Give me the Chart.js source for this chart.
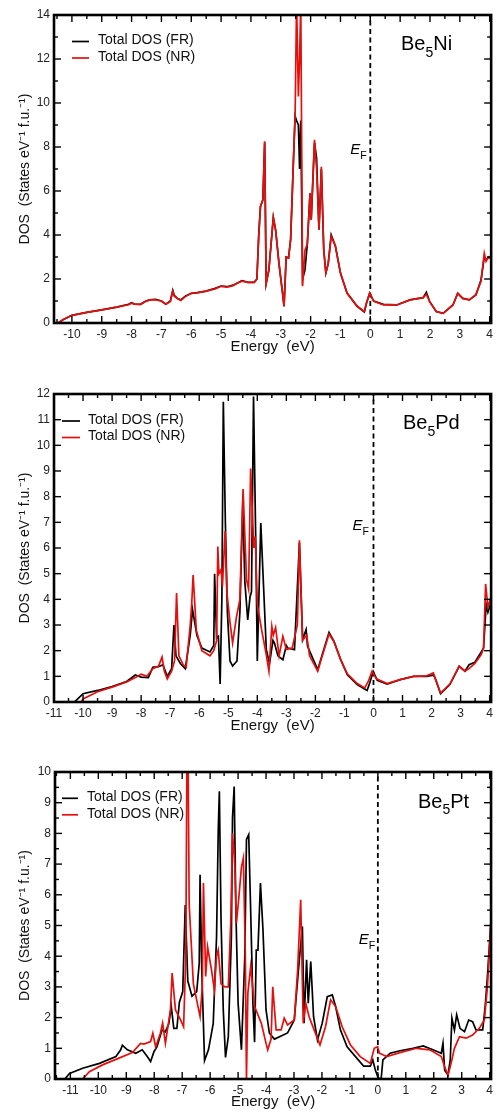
<!DOCTYPE html>
<html>
<head>
<meta charset="utf-8">
<script src="https://cdn.jsdelivr.net/npm/chart.js@4.4.1/dist/chart.umd.min.js"></script>
<style>
    body { margin: 0; background: #fff; }
    .panel { position: absolute; left: 0; width: 497px; }
</style>
</head>
<body>
<div class="panel" style="top:0;height:370px"><canvas id="dosNi" width="497" height="370"></canvas></div>
<div class="panel" style="top:370px;height:370px"><canvas id="dosPd" width="497" height="370"></canvas></div>
<div class="panel" style="top:740px;height:372px"><canvas id="dosPt" width="497" height="372"></canvas></div>
<script>
// --- Data ---
const seriesLabels = ['Total DOS (FR)', 'Total DOS (NR)'];

// Be5Ni: both curves share the same energy grid
const niE = [-10.46, -10.3, -10.0, -9.5, -9.0, -8.5, -8.1, -8.0, -7.9, -7.7, -7.55, -7.4, -7.2, -7.0, -6.85, -6.7, -6.62, -6.57, -6.45, -6.35,
    -6.2, -6.0, -5.8, -5.5, -5.2, -5.0, -4.8, -4.6, -4.4, -4.3, -4.1, -3.89, -3.8, -3.74, -3.68, -3.6, -3.54, -3.49, -3.4, -3.25,
    -3.17, -3.06, -2.94, -2.89, -2.82, -2.74, -2.67, -2.57, -2.52, -2.47, -2.41, -2.37, -2.33, -2.27, -2.19, -2.11, -2.02, -1.98, -1.87, -1.8,
    -1.72, -1.64, -1.56, -1.49, -1.41, -1.31, -1.17, -1.0, -0.78, -0.44, -0.2, -0.13, -0.02, 0.11, 0.44, 0.89, 1.33, 1.77, 1.88, 1.99,
    2.21, 2.44, 2.77, 2.93, 3.1, 3.32, 3.54, 3.71, 3.82, 3.88, 3.96, 4.05];
const niFR = [0, 0.15, 0.35, 0.48, 0.6, 0.72, 0.85, 0.92, 0.86, 0.85, 0.98, 1.05, 1.08, 1.0, 0.85, 1.0, 1.48, 1.25, 1.1, 1.05,
    1.22, 1.35, 1.38, 1.45, 1.58, 1.68, 1.65, 1.72, 1.85, 1.92, 1.85, 1.85, 2.0, 4.0, 5.3, 5.6, 8.2, 1.8, 2.4, 4.8,
    4.2, 2.7, 1.36, 0.76, 3.0, 2.95, 3.8, 7.6, 9.4, 9.2, 9.0, 7.0, 9.2, 2.0, 2.4, 3.6, 5.9, 4.7, 8.2, 7.5,
    4.24, 7.0, 3.33, 2.27, 2.7, 4.0, 3.5, 2.27, 1.36, 0.76, 0.5, 0.9, 1.36, 1.0, 0.85, 0.82, 1.05, 1.15, 1.4, 0.97,
    0.52, 0.44, 0.82, 1.35, 1.12, 1.05, 1.27, 1.95, 3.0, 2.86, 3.0, 2.9];
const niNR = [0, 0.15, 0.35, 0.48, 0.6, 0.72, 0.83, 0.9, 0.86, 0.85, 0.97, 1.05, 1.05, 1.0, 0.85, 0.98, 1.45, 1.22, 1.1, 1.02,
    1.2, 1.35, 1.37, 1.45, 1.55, 1.67, 1.63, 1.7, 1.85, 1.9, 1.85, 1.85, 2.0, 3.9, 5.3, 5.6, 8.26, 1.8, 2.4, 4.8,
    4.2, 2.7, 1.36, 0.76, 3.0, 2.95, 3.8, 7.6, 9.4, 14.6, 10.3, 12.0, 14.6, 1.67, 3.3, 3.6, 5.9, 4.7, 8.33, 7.0,
    4.24, 7.1, 3.33, 2.27, 2.7, 3.94, 3.5, 2.27, 1.36, 0.76, 0.53, 0.9, 1.36, 1.0, 0.82, 0.82, 1.05, 1.15, 1.3, 0.97,
    0.52, 0.44, 0.82, 1.35, 1.12, 1.05, 1.3, 1.9, 3.17, 2.8, 3.0, 2.9];

// Be5Pd
const pdFrE = [-10.3, -10.0, -9.5, -9.0, -8.5, -8.2, -8.0, -7.75, -7.6, -7.4, -7.25, -7.1, -6.95, -6.87, -6.8, -6.65, -6.48, -6.31, -6.23, -6.08,
    -5.91, -5.63, -5.5, -5.47, -5.4, -5.34, -5.28, -5.22, -5.17, -5.1, -5.03, -4.94, -4.85, -4.7, -4.6, -4.5, -4.43, -4.33, -4.25, -4.2,
    -4.13, -4.05, -4.0, -3.88, -3.8, -3.69, -3.58, -3.46, -3.41, -3.29, -3.12, -3.0, -2.95, -2.72, -2.55, -2.44, -2.32, -2.27, -1.92, -1.75,
    -1.53, -1.36, -1.13, -0.9, -0.56, -0.22, -0.13, -0.01, 0.13, 0.47, 0.92, 1.38, 1.83, 2.06, 2.12, 2.31, 2.63, 2.95, 3.15, 3.29,
    3.49, 3.71, 3.79, 3.88, 3.94, 4.05];
const pdFR = [0, 0.32, 0.45, 0.6, 0.8, 1.05, 0.97, 0.95, 1.35, 1.38, 1.45, 1.0, 1.3, 3.0, 1.8, 1.5, 1.3, 2.6, 3.6, 2.6,
    2.1, 1.95, 2.2, 5.0, 2.5, 2.56, 0.7, 4.0, 11.7, 7.0, 3.5, 1.6, 1.4, 1.6, 3.5, 7.8, 4.7, 3.2, 4.1, 4.3,
    11.9, 6.0, 1.6, 6.97, 4.9, 2.04, 1.5, 2.4, 2.3, 1.8, 1.65, 2.2, 2.1, 2.04, 6.2, 2.43, 2.82, 2.17, 1.26, 1.9,
    2.71, 2.36, 1.65, 1.06, 0.68, 0.45, 0.74, 1.19, 0.84, 0.7, 0.87, 1.0, 1.0, 1.05, 0.94, 0.32, 0.68, 1.39, 1.2, 1.45,
    1.55, 1.95, 2.1, 3.8, 3.5, 3.9];
const pdNrE = [-10.07, -10.0, -9.5, -9.0, -8.5, -8.2, -8.0, -7.8, -7.6, -7.4, -7.28, -7.2, -7.1, -6.95, -6.85, -6.78, -6.7, -6.55, -6.45, -6.31,
    -6.26, -6.21, -6.1, -5.91, -5.63, -5.5, -5.4, -5.36, -5.32, -5.25, -5.2, -5.11, -5.05, -4.94, -4.85, -4.72, -4.6, -4.49, -4.37, -4.3,
    -4.23, -4.12, -4.07, -4.0, -3.85, -3.7, -3.6, -3.5, -3.45, -3.37, -3.25, -3.12, -3.0, -2.8, -2.62, -2.55, -2.44, -2.3, -2.2, -1.92,
    -1.75, -1.53, -1.36, -1.13, -0.9, -0.56, -0.3, -0.18, -0.05, 0.1, 0.47, 0.92, 1.38, 1.83, 2.06, 2.12, 2.31, 2.63, 2.95, 3.15,
    3.29, 3.49, 3.71, 3.79, 3.86, 3.94, 4.05];
const pdNR = [0, 0.12, 0.4, 0.58, 0.78, 0.95, 1.08, 1.0, 1.3, 1.4, 1.75, 1.2, 0.9, 1.2, 1.6, 4.25, 1.8, 1.45, 1.35, 3.0,
    3.8, 4.95, 2.8, 2.0, 1.8, 2.0, 2.4, 6.06, 5.0, 5.15, 4.5, 6.65, 4.3, 3.1, 2.3, 3.3, 4.0, 8.3, 4.77, 4.4,
    9.1, 6.0, 6.45, 3.8, 2.8, 1.9, 1.2, 2.95, 2.6, 2.9, 1.8, 2.56, 2.05, 2.1, 3.0, 6.3, 2.4, 2.6, 1.8, 1.2,
    1.85, 2.65, 2.35, 1.65, 1.1, 0.72, 0.55, 0.8, 1.2, 0.9, 0.72, 0.87, 1.0, 1.02, 1.13, 0.94, 0.35, 0.7, 1.4, 1.2,
    1.3, 1.5, 1.85, 2.1, 4.6, 3.7, 4.1];

// Be5Pt
const ptFrE = [-11.2, -11.03, -10.56, -9.96, -9.37, -9.2, -9.14, -8.96, -8.66, -8.43, -8.25, -8.13, -8.01, -7.9, -7.72, -7.6, -7.48, -7.39, -7.3, -7.19,
    -7.1, -6.98, -6.89, -6.8, -6.65, -6.48, -6.39, -6.36, -6.3, -6.2, -6.06, -5.89, -5.77, -5.71, -5.67, -5.61, -5.53, -5.45, -5.35, -5.24,
    -5.2, -5.14, -5.08, -5.0, -4.88, -4.76, -4.7, -4.62, -4.55, -4.47, -4.41, -4.35, -4.29, -4.2, -4.11, -4.0, -3.88, -3.7, -3.46, -3.23,
    -2.99, -2.81, -2.7, -2.64, -2.55, -2.49, -2.4, -2.3, -2.16, -1.99, -1.81, -1.63, -1.51, -1.34, -1.1, -0.8, -0.51, -0.27, -0.18, -0.09,
    0.02, 0.12, 0.18, 0.44, 0.79, 1.26, 1.62, 1.97, 2.27, 2.33, 2.39, 2.51, 2.59, 2.65, 2.74, 2.82, 2.94, 3.1, 3.25, 3.39,
    3.51, 3.75, 3.84, 3.92, 4.05];
const ptFR = [0, 0.18, 0.35, 0.51, 0.73, 0.95, 1.1, 0.95, 0.84, 0.95, 0.73, 0.57, 0.89, 1.05, 1.6, 1.54, 1.8, 2.36, 1.65, 1.65,
    2.5, 2.85, 5.67, 3.2, 2.7, 2.85, 3.77, 6.65, 3.55, 0.6, 0.95, 1.8, 4.64, 8.1, 9.37, 5.18, 2.25, 0.7, 1.38, 4.64,
    8.5, 9.53, 5.5, 2.47, 0.95, 3.99, 7.8, 7.96, 5.5, 2.47, 1.2, 4.2, 4.2, 6.38, 4.86, 2.25, 1.49, 1.3, 1.4, 1.5,
    1.92, 3.88, 4.97, 1.82, 3.88, 2.47, 3.83, 2.03, 1.27, 1.82, 2.68, 2.74, 2.36, 1.6, 1.05, 0.73, 0.42, 0.42, 0.62, 0.29,
    0.02, 0.02, 0.62, 0.84, 0.92, 1.0, 1.08, 0.95, 0.84, 1.16, 0.29, 0.13, 0.62, 1.98, 1.6, 2.09, 1.65, 1.54, 1.92, 1.87,
    1.6, 1.6, 2.36, 3.34, 5.2];
const ptNrE = [-10.56, -10.32, -9.85, -9.37, -8.78, -8.49, -8.37, -8.13, -8.05, -7.95, -7.78, -7.7, -7.6, -7.42, -7.36, -7.24, -7.07, -6.95, -6.87, -6.83,
    -6.79, -6.75, -6.6, -6.36, -6.28, -6.24, -6.16, -6.09, -5.95, -5.85, -5.77, -5.71, -5.61, -5.47, -5.35, -5.26, -5.2, -5.12, -5.06, -4.98,
    -4.88, -4.81, -4.74, -4.7, -4.65, -4.55, -4.41, -4.17, -4.0, -3.94, -3.82, -3.76, -3.64, -3.46, -3.35, -3.23, -2.99, -2.87, -2.76, -2.67,
    -2.58, -2.46, -2.28, -2.07, -1.87, -1.69, -1.51, -1.39, -1.28, -0.98, -0.63, -0.27, -0.13, -0.01, 0.06, 0.32, 0.79, 1.38, 1.86, 2.27,
    2.39, 2.51, 2.62, 2.74, 2.92, 3.16, 3.39, 3.63, 3.81, 3.92, 4.05];
const ptNR = [0, 0.24, 0.46, 0.64, 0.86, 1.16, 1.14, 1.22, 1.49, 1.05, 1.49, 1.82, 1.16, 2.25, 3.45, 2.25, 1.95, 1.7, 4.0, 10.6,
    10.6, 5.7, 3.1, 2.03, 3.0, 6.38, 3.34, 4.3, 3.55, 2.9, 4.0, 4.2, 3.1, 3.0, 3.0, 5.18, 8.0, 7.0, 5.08, 5.84,
    6.9, 7.2, 4.0, 0.0, 2.8, 3.66, 2.36, 1.82, 1.16, 0.95, 1.3, 3.0, 1.6, 1.6, 1.98, 1.76, 1.92, 3.55, 5.84, 1.82,
    2.47, 2.03, 1.6, 1.11, 1.71, 2.58, 2.36, 2.03, 1.71, 1.11, 0.73, 0.51, 1.0, 1.05, 0.84, 0.73, 0.86, 1.0, 0.95, 0.73,
    0.4, 0.13, 0.51, 1.0, 1.38, 1.33, 1.43, 1.65, 1.92, 3.0, 5.2];

// Tick labels
const niXTicks = [-10, -9, -8, -7, -6, -5, -4, -3, -2, -1, 0, 1, 2, 3, 4];
const pdXTicks = [-11, -10, -9, -8, -7, -6, -5, -4, -3, -2, -1, 0, 1, 2, 3, 4];
const ptXTicks = [-11, -10, -9, -8, -7, -6, -5, -4, -3, -2, -1, 0, 1, 2, 3, 4];
const niYTicks = [0, 2, 4, 6, 8, 10, 12, 14];
const pdYTicks = [0, 1, 2, 3, 4, 5, 6, 7, 8, 9, 10, 11, 12];
const ptYTicks = [0, 1, 2, 3, 4, 5, 6, 7, 8, 9, 10];

// --- Helpers ---
const FONT = "'Liberation Sans', Arial, sans-serif";
const RED = '#e4100e';

function toPoints(xs, ys) {
    return xs.map((x, i) => ({ x: x, y: ys[i] }));
}

function line(ctx, x1, y1, x2, y2) {
    ctx.beginPath();
    ctx.moveTo(x1, y1);
    ctx.lineTo(x2, y2);
    ctx.stroke();
}

// frame, inward ticks, legend and text labels
const panelDecor = {
    id: 'panelDecor',
    afterDraw(chart, args, o) {
        const { ctx, chartArea: a, scales: { x, y } } = chart;
        ctx.save();
        ctx.strokeStyle = '#000';
        ctx.lineWidth = 1.4;

        // x ticks, top and bottom
        for (let v = Math.ceil(x.min * 2) / 2; v <= x.max + 1e-9; v += 0.5) {
            const px = x.getPixelForValue(v);
            const len = Number.isInteger(v) ? 7 : 4;
            line(ctx, px, a.bottom, px, a.bottom - len);
            line(ctx, px, a.top, px, a.top + len);
        }
        // y ticks, left and right
        for (let v = 0; v <= y.max + 1e-9; v += o.yMinor) {
            const py = y.getPixelForValue(v);
            const len = Math.abs(v / o.yMajor - Math.round(v / o.yMajor)) < 1e-6 ? 7 : 4;
            line(ctx, a.left, py, a.left + len, py);
            line(ctx, a.right, py, a.right - len, py);
        }

        ctx.lineWidth = 2.6;
        ctx.strokeRect(a.left, a.top, a.right - a.left, a.bottom - a.top);

        // legend
        const lg = o.legend;
        ctx.lineWidth = 1.7;
        ctx.font = '14px ' + FONT;
        ctx.textBaseline = 'middle';
        ctx.fillStyle = '#111';
        [['#000', 0], [RED, 1]].forEach(([col, i]) => {
            const ly = a.top + lg.y + i * 16.5;
            ctx.strokeStyle = col;
            line(ctx, a.left + lg.x1, ly, a.left + lg.x2, ly);
            ctx.fillText(seriesLabels[i], a.left + lg.tx, ly - 1);
        });

        // compound label with subscript
        ctx.textBaseline = 'alphabetic';
        ctx.fillStyle = '#000';
        let cx = o.comp.x;
        const cy = o.comp.y;
        ctx.font = '20px ' + FONT;
        ctx.fillText('Be', cx, cy);
        cx += ctx.measureText('Be').width;
        ctx.font = '14px ' + FONT;
        ctx.fillText('5', cx, cy + 6.5);
        cx += ctx.measureText('5').width;
        ctx.font = '20px ' + FONT;
        ctx.fillText(o.comp.el, cx, cy);

        // E_F label next to the dashed line
        const ex = x.getPixelForValue(0) - o.ef.dx;
        const ey = y.getPixelForValue(o.ef.y);
        ctx.font = 'italic 15px ' + FONT;
        ctx.fillText('E', ex, ey);
        const ew = ctx.measureText('E').width;
        ctx.font = '10.5px ' + FONT;
        ctx.fillText('F', ex + ew, ey + 5);
        ctx.restore();
    }
};

function makeChart(id, p) {
    const tickFont = { family: FONT, size: 12 };
    return new Chart(document.getElementById(id), {
        type: 'line',
        data: {
            datasets: [{
                label: seriesLabels[1],
                data: toPoints(p.nrE, p.nr),
                borderColor: RED,
                order: 0
            }, {
                label: seriesLabels[0],
                data: toPoints(p.frE, p.fr),
                borderColor: '#000',
                order: 1
            }, {
                label: 'EF',
                data: [{ x: 0, y: 0 }, { x: 0, y: p.yMax }],
                borderColor: '#000',
                borderWidth: 1.8,
                borderDash: [5, 3.5],
                order: 2
            }]
        },
        plugins: [panelDecor],
        options: {
            responsive: false,
            animation: false,
            layout: { padding: { top: p.top, right: 2, bottom: 0, left: 0 } },
            elements: {
                line: { borderWidth: 1.7, tension: 0, fill: false },
                point: { radius: 0 }
            },
            scales: {
                x: {
                    type: 'linear',
                    min: p.xMin,
                    max: p.xMax,
                    grid: { display: false, drawTicks: false },
                    border: { display: false },
                    afterBuildTicks: s => { s.ticks = p.xTicks.map(v => ({ value: v })); },
                    afterFit: s => { s.height = p.xAxisH; },
                    ticks: { font: tickFont, color: '#222', padding: 4, maxRotation: 0, autoSkip: false },
                    title: {
                        display: true,
                        text: 'Energy  (eV)',
                        font: { family: FONT, size: 15 },
                        color: '#111',
                        padding: { top: 0, bottom: p.xTitlePad }
                    }
                },
                y: {
                    type: 'linear',
                    min: 0,
                    max: p.yMax,
                    grid: { display: false, drawTicks: false },
                    border: { display: false },
                    afterBuildTicks: s => { s.ticks = p.yTicks.map(v => ({ value: v })); },
                    afterFit: s => { s.width = p.left; },
                    ticks: { font: tickFont, color: '#222', padding: 4 },
                    title: {
                        display: true,
                        text: 'DOS  (States eV\u207B\u00B9 f.u.\u207B\u00B9)',
                        font: { family: FONT, size: 14 },
                        color: '#111',
                        padding: { top: 17, bottom: 0 }
                    }
                }
            },
            plugins: {
                legend: { display: false },
                tooltip: { enabled: false },
                panelDecor: p.decor
            }
        }
    });
}

makeChart('dosNi', {
    frE: niE, fr: niFR, nrE: niE, nr: niNR,
    xMin: -10.6, xMax: 4.05, yMax: 14, xTicks: niXTicks, yTicks: niYTicks,
    top: 15, left: 54, xAxisH: 47, xTitlePad: 14,
    decor: {
        yMinor: 1, yMajor: 2,
        legend: { x1: 18, x2: 35, tx: 44, y: 26.5 },
        comp: { x: 401, y: 50, el: 'Ni' },
        ef: { dx: 20, y: 7.7 }
    }
});

makeChart('dosPd', {
    frE: pdFrE, fr: pdFR, nrE: pdNrE, nr: pdNR,
    xMin: -11, xMax: 4.05, yMax: 12, xTicks: pdXTicks, yTicks: pdYTicks,
    top: 24, left: 54, xAxisH: 38, xTitlePad: 5,
    decor: {
        yMinor: 1, yMajor: 1,
        legend: { x1: 8, x2: 26, tx: 34, y: 27 },
        comp: { x: 403, y: 59, el: 'Pd' },
        ef: { dx: 21, y: 6.7 }
    }
});

makeChart('dosPt', {
    frE: ptFrE, fr: ptFR, nrE: ptNrE, nr: ptNR,
    xMin: -11.55, xMax: 4.05, yMax: 10, xTicks: ptXTicks, yTicks: ptYTicks,
    top: 32, left: 55, xAxisH: 33, xTitlePad: 1,
    decor: {
        yMinor: 0.5, yMajor: 1,
        legend: { x1: 7, x2: 23, tx: 32, y: 26.3 },
        comp: { x: 418, y: 67.5, el: 'Pt' },
        ef: { dx: 19, y: 4.4 }
    }
});
</script>
</body>
</html>
